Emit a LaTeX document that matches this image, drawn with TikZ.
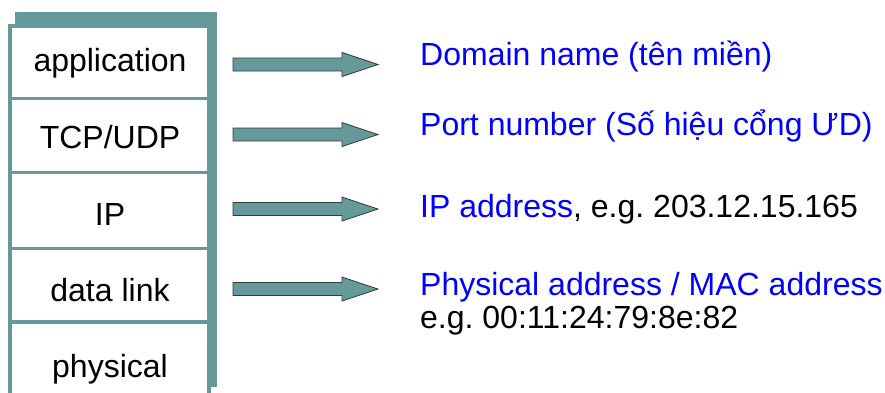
\documentclass[tikz,border=0pt]{standalone}
\usepackage{fontspec}
\setmainfont{Liberation Sans}
\frenchspacing
\definecolor{teal1}{RGB}{102,153,153}
\definecolor{arrline}{RGB}{50,60,60}
\definecolor{lblue}{RGB}{0,0,255}
\begin{document}
\begin{tikzpicture}[x=1pt,y=-1pt,
  layertext/.style={anchor=base,font=\fontsize{32}{36}\selectfont,inner sep=0pt},
  infotext/.style={anchor=base west,font=\fontsize{32}{36}\selectfont,inner sep=0pt},
  fatarrow/.style={fill=teal1,draw=arrline,line width=0.8pt,line join=miter}]
\useasboundingbox (0,0) rectangle (885,392);
% back (3D) panel
\fill[teal1] (15,12) rectangle (217,387);
% front stack
\draw[teal1,line width=4pt,fill=white] (10,26) rectangle (209,410);
\foreach \yy in {98.5,172.5,248.5,322}
  \draw[teal1,line width=3.5pt] (10,\yy) -- (209,\yy);
% layer labels
\node[layertext] (app)  at (110,71)  {application};
\node[layertext] (tcp)  at (110,148) {TCP/UDP};
\node[layertext] (ip)   at (110,225) {IP};
\node[layertext] (dl)   at (110,301) {data link};
\node[layertext] (phy)  at (110,377) {physical};
% arrows
\foreach \yc in {64.5,134.5,209,289}
  \draw[fatarrow] (233,\yc-6.5) -- (342,\yc-6.5) -- (342,\yc-12) -- (378,\yc)
     -- (342,\yc+12) -- (342,\yc+6.5) -- (233,\yc+6.5) -- cycle;
% info texts
\node[infotext,text=lblue] (dom)  at (420,65)  {Domain name (tên miền)};
\node[infotext,text=lblue] (port) at (420,135) {Port number (Số hiệu cổng ƯD)};
\node[infotext] (ipa)  at (420,217) {\textcolor{lblue}{IP address}, e.g. 203.12.15.165};
\node[infotext,text=lblue] (mac)  at (420,295) {Physical address / MAC address};
\node[infotext] (eg)   at (420,328) {e.g. 00:11:24:79:8e:82};
\end{tikzpicture}
\end{document}
